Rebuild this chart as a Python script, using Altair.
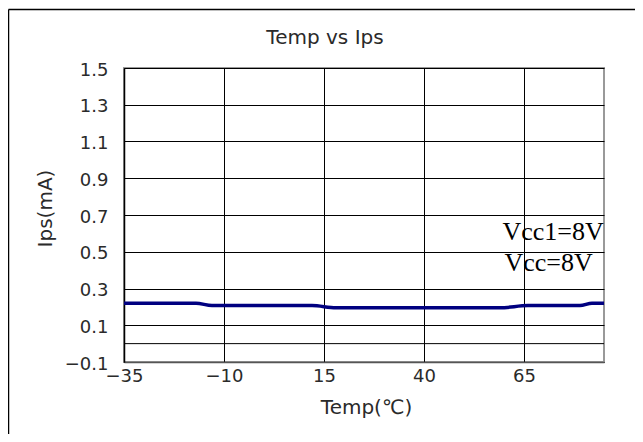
import altair as alt
import pandas as pd

# ---- data ----
temp_c = [-35, -17, -13, 12, 18, 59, 66, 79, 82, 85]
ips_ma = [0.22, 0.22, 0.207, 0.207, 0.195, 0.195, 0.207, 0.207, 0.22, 0.22]
x_ticks = [-35, -10, 15, 40, 65]
y_ticks = [-0.1, 0.1, 0.3, 0.5, 0.7, 0.9, 1.1, 1.3, 1.5]
zero_line = [0.0]
note_text = ["Vcc1=8V", "Vcc=8V"]
note_x = [59.6, 60.1]
note_y = [0.564, 0.397]
title_text = "Temp vs Ips"

df = pd.DataFrame({"Temp": temp_c, "Ips": ips_ma})
notes = pd.DataFrame({"t": note_text, "Temp": note_x, "Ips": note_y})
zero = pd.DataFrame({"Ips": zero_line})
ttl = pd.DataFrame({"t": [title_text]})

xs = alt.Scale(domain=[-35, 85], nice=False, zero=False)
ys = alt.Scale(domain=[-0.1, 1.5], nice=False, zero=False)

FONT = "DejaVu Sans"
TXT = "#2a2a2a"

x_axis = alt.Axis(
    values=x_ticks, tickCount=20, title="Temp(℃)", grid=True, ticks=False, labelOverlap=False,
    labelFlush=False, labelPadding=5, labelFont=FONT, labelFontSize=18,
    labelColor=TXT, titleFont=FONT, titleFontSize=20, titleFontWeight="normal",
    titleColor=TXT, titleX=242, titleY=45, titleBaseline="middle", titleAlign="center",
    domainColor="#555555", domainWidth=1.5, gridColor="black", gridWidth=1, gridOpacity=1,
)
y_axis = alt.Axis(
    values=y_ticks, tickCount=20, format=".1f", title="Ips(mA)", grid=True, ticks=False,
    labelOverlap=False, labelFlush=False, labelPadding=16, labelOffset=2, labelFont=FONT,
    labelFontSize=18, labelColor=TXT, titleFont=FONT, titleFontSize=20,
    titleFontWeight="normal", titleColor=TXT, titleX=-79, titleY=140, titleAngle=270,
    titleBaseline="middle", titleAlign="center", domainColor="black", domainWidth=1.5,
    gridColor="black", gridWidth=1, gridOpacity=1,
)

line = alt.Chart(df).mark_line(color="#000080", strokeWidth=3.5, interpolate="monotone").encode(
    x=alt.X("Temp:Q", scale=xs, axis=x_axis),
    y=alt.Y("Ips:Q", scale=ys, axis=y_axis),
)

zero_rule = alt.Chart(zero).mark_rule(color="black", strokeWidth=1).encode(
    y=alt.Y("Ips:Q", scale=ys),
)

note_marks = alt.Chart(notes).mark_text(
    align="left", baseline="alphabetic", font="Liberation Serif", fontSize=26, color="black"
).encode(
    x=alt.X("Temp:Q", scale=xs),
    y=alt.Y("Ips:Q", scale=ys),
    text="t:N",
)

title_mark = alt.Chart(ttl).mark_text(
    align="center", baseline="alphabetic", font=FONT, fontSize=20, color=TXT
).encode(text="t:N", x=alt.value(201), y=alt.value(-24))

border_left = alt.Chart(ttl).mark_rule(color="black", strokeWidth=1.5).encode(
    x=alt.value(-115.5), y=alt.value(-58.5), y2=alt.value(400)
)
border_top = alt.Chart(ttl).mark_rule(color="black", strokeWidth=1.5).encode(
    x=alt.value(-115.5), x2=alt.value(530), y=alt.value(-58.5)
)

chart = alt.layer(zero_rule, line, note_marks, title_mark, border_left, border_top).properties(
    width=480, height=294,
    autosize=alt.AutoSizeParams(type="none"),
    padding={"left": 116, "top": 60, "right": 31, "bottom": 72},
).configure_view(stroke="#999999", strokeWidth=2)

chart.save("out.html", embed_options={"renderer": "svg", "actions": False})
